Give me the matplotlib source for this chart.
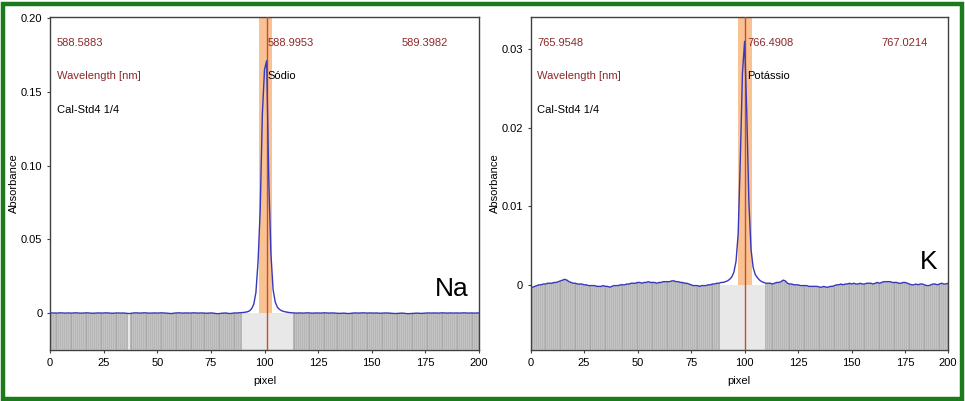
import numpy as np
import matplotlib
matplotlib.use('Agg')
import matplotlib.pyplot as plt
from matplotlib.patches import Rectangle

plt.rcParams['font.family'] = ['Liberation Sans', 'DejaVu Sans']

# Na absorbance per detector pixel (0..200)
na_abs = [
    0.0002, 0.0001, 0.0001, 0.0000, 0.0001, 0.0002, 0.0001, 0.0000, 0.0001, 0.0001,
    0.0000, 0.0001, 0.0002, 0.0001, 0.0000, 0.0000, 0.0001, 0.0002, 0.0001, 0.0000,
    -0.0001, 0.0000, 0.0001, 0.0001, 0.0000, 0.0001, 0.0002, 0.0001, 0.0000, -0.0001,
    0.0000, 0.0001, 0.0001, 0.0000, 0.0001, 0.0000, -0.0002, -0.0003, -0.0001, 0.0001,
    0.0002, 0.0001, 0.0000, 0.0001, 0.0002, 0.0001, 0.0000, 0.0000, 0.0001, 0.0001,
    0.0000, 0.0001, 0.0002, 0.0001, 0.0000, -0.0001, -0.0003, -0.0002, 0.0000, 0.0001,
    0.0002, 0.0001, 0.0000, 0.0001, 0.0001, 0.0000, 0.0001, 0.0002, 0.0001, 0.0000,
    0.0001, 0.0001, 0.0000, -0.0001, 0.0000, 0.0001, 0.0000, -0.0002, -0.0004, -0.0003,
    -0.0001, 0.0000, 0.0001, -0.0002, -0.0003, -0.0001, 0.0001, 0.0001, 0.0002, 0.0003,
    0.0004, 0.0006, 0.0009, 0.0015, 0.0030, 0.0060, 0.0140, 0.0350, 0.0700, 0.1350,
    0.1650, 0.1710, 0.0900, 0.0400, 0.0160, 0.0075, 0.0040, 0.0025, 0.0016, 0.0011,
    0.0008, 0.0005, 0.0003, 0.0002, 0.0001, 0.0000, 0.0001, 0.0001, 0.0000, 0.0001,
    0.0002, 0.0001, 0.0000, 0.0000, 0.0001, 0.0001, 0.0000, 0.0001, 0.0002, 0.0001,
    0.0000, 0.0001, 0.0001, 0.0000, -0.0001, -0.0002, -0.0001, 0.0000, -0.0002, -0.0003,
    -0.0002, 0.0000, 0.0001, 0.0001, 0.0000, 0.0001, 0.0002, 0.0001, 0.0000, 0.0001,
    0.0001, 0.0000, 0.0001, 0.0000, -0.0001, 0.0000, 0.0001, 0.0001, 0.0000, -0.0001,
    -0.0002, -0.0003, -0.0002, -0.0001, 0.0000, -0.0001, -0.0003, -0.0004, -0.0003, -0.0002,
    -0.0001, 0.0000, -0.0001, -0.0002, -0.0001, 0.0000, 0.0001, 0.0001, 0.0000, 0.0001,
    0.0001, 0.0000, 0.0001, 0.0002, 0.0001, 0.0000, 0.0001, 0.0001, 0.0000, 0.0001,
    0.0001, 0.0000, 0.0001, 0.0002, 0.0001, 0.0000, 0.0001, 0.0001, 0.0000, 0.0001,
    0.0001,
]

# K absorbance per detector pixel (0..195)
k_abs = [
    -0.0003, -0.0003, -0.0002, -0.0001, 0.0000, 0.0000, 0.0001, 0.0001, 0.0002, 0.0002,
    0.0002, 0.0003, 0.0003, 0.0004, 0.0005, 0.0006, 0.0007, 0.0006, 0.0004, 0.0003,
    0.0002, 0.0002, 0.0001, 0.0001, 0.0001, 0.0000, 0.0000, -0.0001, -0.0001, -0.0001,
    -0.0001, -0.0002, -0.0002, -0.0002, -0.0001, -0.0002, -0.0002, -0.0003, -0.0002, -0.0001,
    -0.0001, -0.0001, 0.0000, 0.0000, 0.0000, 0.0001, 0.0001, 0.0002, 0.0002, 0.0002,
    0.0003, 0.0003, 0.0002, 0.0003, 0.0003, 0.0004, 0.0003, 0.0003, 0.0003, 0.0002,
    0.0003, 0.0003, 0.0004, 0.0004, 0.0004, 0.0004, 0.0005, 0.0005, 0.0004, 0.0004,
    0.0003, 0.0003, 0.0002, 0.0002, 0.0001, 0.0000, -0.0001, -0.0001, -0.0001, -0.0002,
    -0.0001, -0.0001, -0.0001, 0.0000, 0.0000, 0.0001, 0.0001, 0.0002, 0.0002, 0.0003,
    0.0003, 0.0004, 0.0005, 0.0007, 0.0010, 0.0016, 0.0030, 0.0065, 0.0160, 0.0270,
    0.0310, 0.0220, 0.0105, 0.0045, 0.0022, 0.0013, 0.0009, 0.0006, 0.0004, 0.0003,
    0.0002, 0.0002, 0.0002, 0.0001, 0.0002, 0.0003, 0.0003, 0.0004, 0.0006, 0.0005,
    0.0002, 0.0001, 0.0001, 0.0000, 0.0000, 0.0000, -0.0001, -0.0001, -0.0001, -0.0001,
    -0.0002, -0.0002, -0.0002, -0.0002, -0.0002, -0.0003, -0.0003, -0.0002, -0.0003, -0.0003,
    -0.0002, -0.0002, -0.0001, 0.0000, 0.0000, 0.0001, 0.0000, 0.0001, 0.0001, 0.0002,
    0.0001, 0.0002, 0.0001, 0.0001, 0.0002, 0.0001, 0.0001, 0.0002, 0.0002, 0.0002,
    0.0001, 0.0002, 0.0003, 0.0002, 0.0003, 0.0004, 0.0004, 0.0004, 0.0004, 0.0003,
    0.0003, 0.0003, 0.0002, 0.0002, 0.0003, 0.0003, 0.0002, 0.0001, 0.0000, 0.0000,
    0.0001, 0.0000, 0.0001, 0.0001, 0.0000, -0.0001, -0.0001, 0.0000, 0.0001, 0.0001,
    0.0000, 0.0001, 0.0002, 0.0001, 0.0001, 0.0002,
]

# pixels not used for evaluation (light grey)
na_excluded = [37] + list(range(90, 114))
k_excluded = list(range(89, 110))

na_band = (97.4, 103.5)
k_band = (97.1, 103.4)
na_center = 101.2
k_center = 100.2

na_wavelengths = ['588.5883', '588.9953', '589.3982']
k_wavelengths = ['765.9548', '766.4908', '767.0214']

na_yticks = [0, 0.05, 0.10, 0.15, 0.20]
na_yticklabels = ['0', '0.05', '0.10', '0.15', '0.20']
k_yticks = [0, 0.01, 0.02, 0.03]
k_yticklabels = ['0', '0.01', '0.02', '0.03']

DARKRED = '#8b2a2a'


def plot_panel(ax, values, excluded, band, center, ylim, xlim, yticks, yticklabels,
               xticks, xticklabels, wavelengths, element, symbol, sym_pos):
    pix = np.arange(len(values))
    vals = np.array(values)
    ylo, yhi = ylim
    used = np.array([p not in excluded for p in pix])

    # bars under the spectrum
    ax.bar(pix[used], vals[used] - ylo, bottom=ylo, width=1.0, color='#a9a9a9',
           edgecolor='white', linewidth=0.25, zorder=1)
    ax.bar(pix[~used], 0 - ylo, bottom=ylo, width=1.0, color='#e8e8e8',
           linewidth=0, zorder=1)

    frac0 = (0 - ylo) / (yhi - ylo)
    ax.axvspan(band[0], band[1], ymin=frac0, ymax=1, color='#f9c293', linewidth=0, zorder=2)
    ax.axvline(center, color='#d04a2a', lw=1.0, zorder=3)
    ax.plot(pix, vals, color='#3838b8', lw=1.0, zorder=4)

    ax.set_xlim(*xlim)
    ax.set_ylim(*ylim)
    ax.set_xticks(xticks)
    ax.set_xticklabels(xticklabels)
    ax.set_yticks(yticks)
    ax.set_yticklabels(yticklabels)
    ax.tick_params(labelsize=8, length=2, width=0.8, color='#404040')
    ax.set_xlabel('pixel', fontsize=8, labelpad=6)
    ax.set_ylabel('Absorbance', fontsize=8, labelpad=1)
    for s in ax.spines.values():
        s.set_color('#404040')
        s.set_linewidth(1.0)

    ax.text(0.016, 0.923, wavelengths[0], transform=ax.transAxes, fontsize=8,
            color=DARKRED, va='center')
    ax.text(sym_pos[2], 0.923, wavelengths[1], transform=ax.transAxes, fontsize=8,
            color=DARKRED, va='center')
    ax.text(sym_pos[3], 0.923, wavelengths[2], transform=ax.transAxes, fontsize=8,
            color=DARKRED, va='center')
    ax.text(0.016, 0.823, 'Wavelength [nm]', transform=ax.transAxes, fontsize=8,
            color=DARKRED, va='center')
    ax.text(sym_pos[2], 0.823, element, transform=ax.transAxes, fontsize=8,
            color='black', va='center')
    ax.text(0.016, 0.721, 'Cal-Std4 1/4', transform=ax.transAxes, fontsize=8,
            color='black', va='center')
    ax.text(sym_pos[0], sym_pos[1], symbol, transform=ax.transAxes, fontsize=19,
            color='black', va='center', fontweight='medium')


fig = plt.figure(figsize=(9.65, 4.01), dpi=100)
ax1 = fig.add_axes([50 / 965, 51 / 401, 429 / 965, 333 / 401])
ax2 = fig.add_axes([530.5 / 965, 51 / 401, 417.5 / 965, 333 / 401])

plot_panel(ax1, na_abs, na_excluded, na_band, na_center, (-0.025, 0.2007), (0, 200),
           na_yticks, na_yticklabels, list(range(0, 201, 25)),
           [str(v) for v in range(0, 201, 25)], na_wavelengths, 'Sódio', 'Na',
           (0.897, 0.183, 0.508, 0.8205))
plot_panel(ax2, k_abs, k_excluded, k_band, k_center, (-0.0083, 0.0341), (0, 195),
           k_yticks, k_yticklabels, list(range(0, 176, 25)) + [195],
           [str(v) for v in range(0, 176, 25)] + ['200'], k_wavelengths, 'Potássio', 'K',
           (0.933, 0.264, 0.520, 0.841))

# green frame round the whole picture
fig.patches.append(Rectangle((2.5 / 965, 2 / 401), 959 / 965, 395.5 / 401,
                             transform=fig.transFigure, fill=False,
                             edgecolor='#1b7a1b', linewidth=3.2))

fig.savefig('out.png', dpi=100)
